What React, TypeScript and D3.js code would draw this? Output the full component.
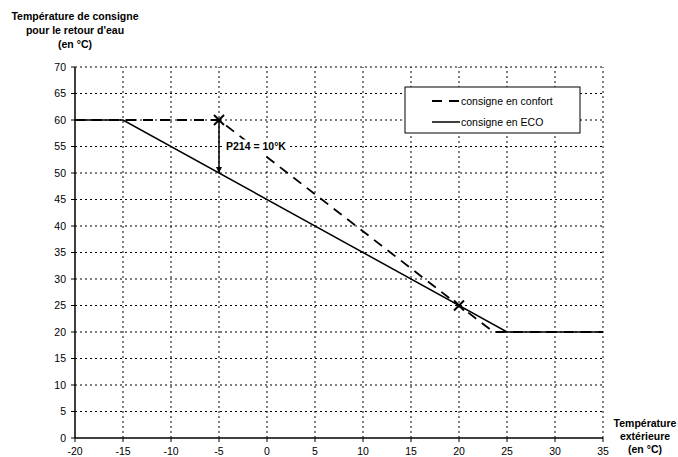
import React from "react";
import * as d3 from "d3";

const xTicks = [-20, -15, -10, -5, 0, 5, 10, 15, 20, 25, 30, 35];
const yTicks = [0, 5, 10, 15, 20, 25, 30, 35, 40, 45, 50, 55, 60, 65, 70];
const confortX = [-20, -5, 20, 23.6, 35];
const confortY = [60, 60, 25, 20, 20];
const ecoX = [-20, -15, 25, 35];
const ecoY = [60, 60, 20, 20];
const markerX = [-5, 20];
const markerY = [60, 25];
const arrowX = -5;
const arrowFrom = 60;
const arrowTo = 50;
const arrowLabel = "P214 = 10°K";
const yTitle = ["Température de consigne", "pour le retour d'eau", "(en °C)"];
const xTitle = ["Température", "extérieure", "(en °C)"];
const legendLabels = ["consigne en confort", "consigne en ECO"];

export default function App() {
  const x = d3.scaleLinear().domain([-20, 35]).range([75, 603]);
  const y = d3.scaleLinear().domain([0, 70]).range([438, 67]);
  const line = d3.line<[number, number]>().x((d) => x(d[0])).y((d) => y(d[1]));
  const confort = confortX.map((v, i) => [v, confortY[i]] as [number, number]);
  const eco = ecoX.map((v, i) => [v, ecoY[i]] as [number, number]);
  const font = "'Liberation Sans', Arial, sans-serif";
  return (
    <svg width={678} height={457} style={{ position: "absolute", left: 0, top: 0 }} fontFamily={font}>
      <rect width={678} height={457} fill="#fff" />
      {xTicks.slice(1).map((t) => (
        <line key={"gx" + t} x1={x(t)} x2={x(t)} y1={y(0)} y2={y(70)} stroke="#000" strokeWidth={1} strokeDasharray="2,3" />
      ))}
      {yTicks.slice(1).map((t) => (
        <line key={"gy" + t} x1={x(-20)} x2={x(35)} y1={y(t)} y2={y(t)} stroke="#000" strokeWidth={1} strokeDasharray="2,3" />
      ))}
      <line x1={x(-20)} x2={x(-20)} y1={y(0)} y2={y(70)} stroke="#000" strokeWidth={1.5} />
      <line x1={x(-20)} x2={x(35)} y1={y(0)} y2={y(0)} stroke="#000" strokeWidth={1.5} />
      {yTicks.map((t) => (
        <g key={"ty" + t}>
          <line x1={x(-20) - 4} x2={x(-20)} y1={y(t)} y2={y(t)} stroke="#000" />
          <text x={x(-20) - 9} y={y(t)} dy="0.35em" textAnchor="end" fontSize={10.5}>{t}</text>
        </g>
      ))}
      {xTicks.map((t) => (
        <g key={"tx" + t}>
          <line x1={x(t)} x2={x(t)} y1={y(0)} y2={y(0) + 4} stroke="#000" />
          <text x={x(t)} y={y(0) + 17} textAnchor="middle" fontSize={10.5}>{t}</text>
        </g>
      ))}
      <path d={line(eco) || ""} fill="none" stroke="#000" strokeWidth={1.5} />
      <path d={line(confort) || ""} fill="none" stroke="#000" strokeWidth={1.8} strokeDasharray="10,7" />
      {markerX.map((mx, i) => (
        <g key={"m" + i} stroke="#000" strokeWidth={2}>
          <line x1={x(mx) - 5} x2={x(mx) + 5} y1={y(markerY[i]) - 5} y2={y(markerY[i]) + 5} />
          <line x1={x(mx) - 5} x2={x(mx) + 5} y1={y(markerY[i]) + 5} y2={y(markerY[i]) - 5} />
        </g>
      ))}
      <line x1={x(arrowX)} x2={x(arrowX)} y1={y(arrowFrom)} y2={y(arrowTo)} stroke="#000" strokeWidth={1.5} />
      <path d={`M${x(arrowX)},${y(arrowTo)} l-3,-6 l6,0 z`} fill="#000" />
      <rect x={x(arrowX) + 5} y={y(55) - 7} width={63} height={14} fill="#fff" />
      <text x={x(arrowX) + 7} y={y(55)} dy="0.35em" fontSize={10.5} fontWeight="bold">{arrowLabel}</text>
      <rect x={405} y={87} width={175} height={46} fill="#fff" stroke="#000" strokeWidth={1} />
      <line x1={432} x2={460} y1={101} y2={101} stroke="#000" strokeWidth={2} strokeDasharray="10,7" />
      <text x={461} y={101} dy="0.35em" fontSize={10.5}>{legendLabels[0]}</text>
      <line x1={432} x2={460} y1={122} y2={122} stroke="#000" strokeWidth={1.5} />
      <text x={461} y={122} dy="0.35em" fontSize={10.5}>{legendLabels[1]}</text>
      {yTitle.map((s, i) => (
        <text key={"yt" + i} x={75} y={19.5 + i * 14} textAnchor="middle" fontSize={10.5} fontWeight="bold">{s}</text>
      ))}
      {xTitle.map((s, i) => (
        <text key={"xt" + i} x={645} y={427 + i * 13} textAnchor="middle" fontSize={10.5} fontWeight="bold">{s}</text>
      ))}
    </svg>
  );
}
